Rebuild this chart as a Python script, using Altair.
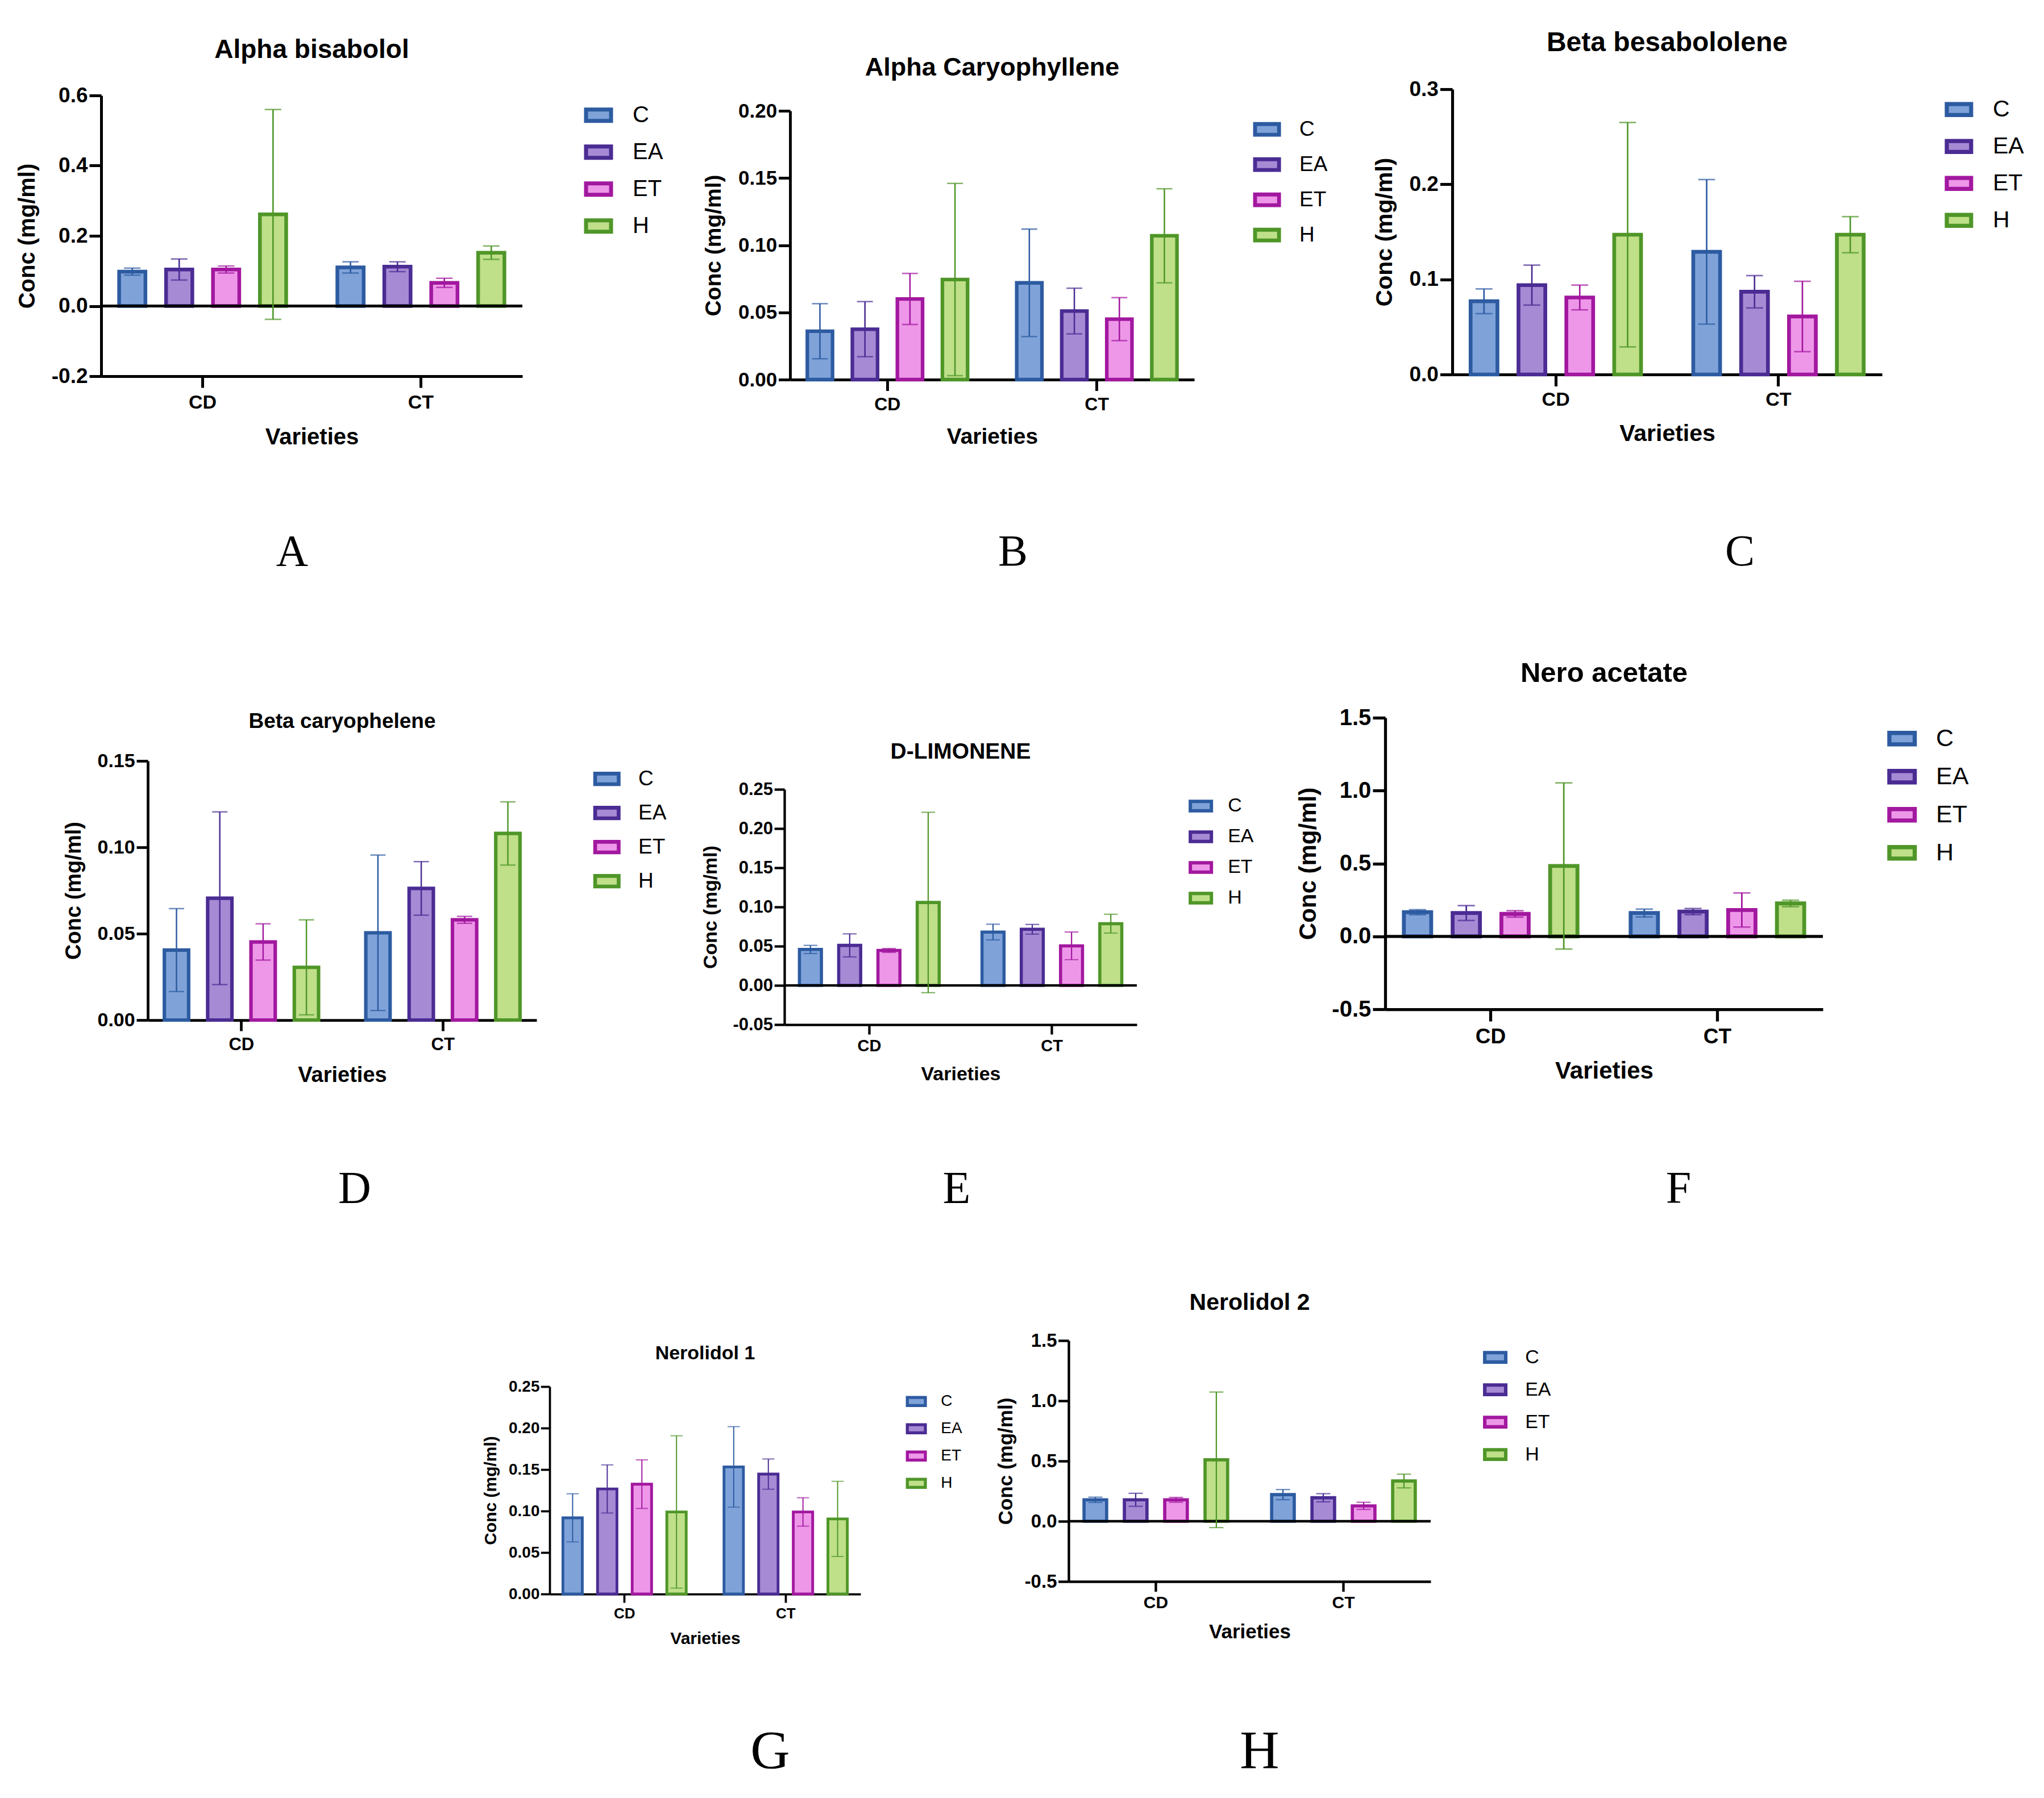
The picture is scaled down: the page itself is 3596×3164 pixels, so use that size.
import altair as alt
import pandas as pd

# ---------------- data ----------------
VARIETIES = ["CD", "CT"]
GROUPS = ["C", "EA", "ET", "H"]
FILLS = ["#7FA3D9", "#A68AD4", "#EE97E9", "#BFDF89"]
STROKES = ["#2D5BA1", "#4A2C93", "#A2189F", "#4F9628"]

# order of values: CD-C, CD-EA, CD-ET, CD-H, CT-C, CT-EA, CT-ET, CT-H
A_TITLE = "Alpha bisabolol"
A_MEAN = [0.098, 0.104, 0.104, 0.261, 0.110, 0.112, 0.066, 0.152]
A_SD = [0.010, 0.030, 0.010, 0.299, 0.016, 0.014, 0.013, 0.019]
A_TICKS = [-0.2, 0.0, 0.2, 0.4, 0.6]

B_TITLE = "Alpha Caryophyllene"
B_MEAN = [0.036, 0.0375, 0.060, 0.0745, 0.072, 0.051, 0.045, 0.107]
B_SD = [0.0205, 0.0205, 0.019, 0.0715, 0.040, 0.017, 0.016, 0.035]
B_TICKS = [0.0, 0.05, 0.10, 0.15, 0.20]

C_TITLE = "Beta besabololene"
C_MEAN = [0.077, 0.094, 0.081, 0.147, 0.129, 0.087, 0.061, 0.147]
C_SD = [0.013, 0.021, 0.013, 0.118, 0.076, 0.017, 0.037, 0.019]
C_TICKS = [0.0, 0.1, 0.2, 0.3]

D_TITLE = "Beta caryophelene"
D_MEAN = [0.0405, 0.0705, 0.0452, 0.0305, 0.0505, 0.0762, 0.058, 0.108]
D_SD = [0.024, 0.050, 0.0105, 0.0275, 0.045, 0.0155, 0.002, 0.0183]
D_TICKS = [0.0, 0.05, 0.10, 0.15]

E_TITLE = "D-LIMONENE"
E_MEAN = [0.0458, 0.051, 0.0445, 0.1057, 0.068, 0.0715, 0.0504, 0.0787]
E_SD = [0.0052, 0.0147, 0.0025, 0.115, 0.010, 0.0062, 0.0176, 0.012]
E_TICKS = [-0.05, 0.0, 0.05, 0.10, 0.15, 0.20, 0.25]

F_TITLE = "Nero acetate"
F_MEAN = [0.166, 0.160, 0.154, 0.483, 0.160, 0.170, 0.181, 0.226]
F_SD = [0.017, 0.051, 0.022, 0.570, 0.027, 0.021, 0.117, 0.022]
F_TICKS = [-0.5, 0.0, 0.5, 1.0, 1.5]

G_TITLE = "Nerolidol 1"
G_MEAN = [0.0918, 0.1266, 0.1324, 0.0989, 0.1532, 0.1445, 0.0989, 0.0905]
G_SD = [0.029, 0.029, 0.0293, 0.0918, 0.0485, 0.0182, 0.0171, 0.0453]
G_TICKS = [0.0, 0.05, 0.10, 0.15, 0.20, 0.25]

H_TITLE = "Nerolidol 2"
H_MEAN = [0.178, 0.178, 0.178, 0.51, 0.221, 0.195, 0.1275, 0.334]
H_SD = [0.022, 0.054, 0.020, 0.563, 0.042, 0.034, 0.0295, 0.057]
H_TICKS = [-0.5, 0.0, 0.5, 1.0, 1.5]

X_TITLE = "Varieties"
Y_TITLE = "Conc (mg/ml)"

# ---------------- layout / style ----------------
FONT = "Liberation Sans"
SERIF = "Liberation Serif"
SWATCH = "M-1,-0.45L1,-0.45L1,0.45L-1,0.45Z"
ORIGIN = 8

LAYOUT = {
    "A": dict(L=178, T=168, W=741, H=494, fmt=".1f", title_fs=46, tick_fs=34, ylab_fs=37, axt_fs=40, leg_fs=40,
              ytx=130, lgap=113, sw=51, lrow=66, lyc=33, loff=31, toff=71.5, xlab=46, xtit=107),
    "B": dict(L=1391, T=195, W=711, H=473, fmt=".2f", title_fs=45, tick_fs=32, ylab_fs=35, axt_fs=39, leg_fs=37,
              ytx=135, lgap=108, sw=49, lrow=63, lyc=31, loff=29, toff=69, xlab=44, xtit=102),
    "C": dict(L=2556, T=157, W=756, H=502, fmt=".1f", title_fs=48, tick_fs=34, ylab_fs=37, axt_fs=41, leg_fs=41,
              ytx=119, lgap=115, sw=50, lrow=66, lyc=34, loff=31, toff=73, xlab=44, xtit=105),
    "D": dict(L=260, T=1339, W=684, H=456, fmt=".2f", title_fs=37, tick_fs=31, ylab_fs=34, axt_fs=38, leg_fs=37,
              ytx=130, lgap=104, sw=48, lrow=61, lyc=30, loff=28, toff=63, xlab=44, xtit=98),
    "E": dict(L=1380, T=1389, W=620, H=414, fmt=".2f", title_fs=39, tick_fs=29, ylab_fs=31, axt_fs=34, leg_fs=34,
              ytx=130, lgap=95, sw=43, lrow=55, lyc=28, loff=23, toff=59, xlab=38, xtit=87),
    "F": dict(L=2436, T=1263, W=770, H=513, fmt=".1f", title_fs=49, tick_fs=37, ylab_fs=40, axt_fs=42, leg_fs=43,
              ytx=136, lgap=118, sw=52, lrow=68, lyc=35, loff=30, toff=70, xlab=49, xtit=110),
    "G": dict(L=967, T=2440, W=547, H=365, fmt=".2f", title_fs=34, tick_fs=26, ylab_fs=28, axt_fs=30, leg_fs=28,
              ytx=104, lgap=83, sw=37, lrow=48, lyc=25, loff=22, toff=53, xlab=34, xtit=78),
    "H": dict(L=1881, T=2359, W=637, H=424, fmt=".1f", title_fs=41, tick_fs=30, ylab_fs=33, axt_fs=35, leg_fs=34,
              ytx=111, lgap=96, sw=43, lrow=57, lyc=28, loff=28, toff=60, xlab=37, xtit=89),
}

# rows: (panel keys, row top on page, row height, letter-row height, letter size)
ROWS = [
    (["A", "B", "C"], 8, 884, 160, 78),
    (["D", "E", "F"], 1052, 961, 160, 80),
    (["G", "H"], 2173, 830, 160, 96),
]
LETTER_X = {"A": 514, "B": 1782, "C": 3061, "D": 624, "E": 1683, "F": 2953, "G": 1355, "H": 2216}
LETTER_W = 200

PANEL_DATA = {
    "A": (A_TITLE, A_MEAN, A_SD, A_TICKS),
    "B": (B_TITLE, B_MEAN, B_SD, B_TICKS),
    "C": (C_TITLE, C_MEAN, C_SD, C_TICKS),
    "D": (D_TITLE, D_MEAN, D_SD, D_TICKS),
    "E": (E_TITLE, E_MEAN, E_SD, E_TICKS),
    "F": (F_TITLE, F_MEAN, F_SD, F_TICKS),
    "G": (G_TITLE, G_MEAN, G_SD, G_TICKS),
    "H": (H_TITLE, H_MEAN, H_SD, H_TICKS),
}

SPACER_DF = pd.DataFrame({"s": [0]})
ZERO_DF = pd.DataFrame({"z": [0.0]})

RES = dict(color="independent", stroke="independent", fill="independent", xOffset="independent")
LRES = dict(color="independent", stroke="independent", fill="independent")


def spacer(w, h):
    return alt.Chart(SPACER_DF).mark_point(opacity=0, size=1).properties(
        width=max(1, int(round(w))), height=max(1, int(round(h))))


def make_panel(key):
    title, means, sds, ticks = PANEL_DATA[key]
    c = LAYOUT[key]
    f = c["axt_fs"] / 40.0
    recs = []
    for i, v in enumerate(VARIETIES):
        for j, g in enumerate(GROUPS):
            k = 4 * i + j
            recs.append({"variety": v, "group": g, "mean": means[k],
                         "lo": means[k] - sds[k], "hi": means[k] + sds[k]})
    df = pd.DataFrame(recs)
    W, H = c["W"], c["H"]
    axis_w = 5 * f
    ytick = 21 * f
    xtick = 20 * f
    bsw = 6.5 * f
    ew = 2.6 * f
    lsw = 7 * f
    p = c["sw"] - lsw
    step = W / (2 - 0.14 + 0.07)
    bar_band = step * (1 - 0.14) / 4 * (1 - 0.44)
    cap = 0.55 * (bar_band + bsw)

    label_expr = f"(datum.value < 0 ? '-' : '') + format(abs(datum.value), '{c['fmt']}')"

    xenc = alt.X("variety:N", sort=VARIETIES,
                 scale=alt.Scale(paddingInner=0.14, paddingOuter=0.035),
                 axis=alt.Axis(title=X_TITLE, labelAngle=0, grid=False,
                               labelFont=FONT, labelFontWeight="bold", labelFontSize=c["tick_fs"],
                               labelColor="black",
                               labelPadding=max(0, c["xlab"] - xtick - c["tick_fs"] / 2),
                               tickSize=xtick, tickWidth=axis_w, tickColor="black",
                               domainColor="black", domainWidth=axis_w,
                               titleFont=FONT, titleFontSize=c["axt_fs"], titleFontWeight="bold",
                               titleColor="black",
                               titlePadding=max(0, c["xtit"] - c["xlab"] - c["tick_fs"] / 2 - c["axt_fs"] / 2)))
    xoff = alt.XOffset("group:N", sort=GROUPS, scale=alt.Scale(paddingInner=0.44, paddingOuter=0.22))
    yscale = alt.Scale(domain=[ticks[0], ticks[-1]], nice=False, zero=False)
    yaxis = alt.Axis(title=Y_TITLE, values=ticks, labelExpr=label_expr, grid=False,
                     domainColor="black", domainWidth=axis_w, tickColor="black", tickWidth=axis_w,
                     tickSize=ytick, labelFont=FONT, labelFontSize=c["ylab_fs"], labelFontWeight="bold",
                     labelColor="black", labelPadding=3 * f,
                     titleFont=FONT, titleFontSize=c["axt_fs"], titleFontWeight="bold", titleColor="black",
                     titleX=-c["ytx"], titleY=H / 2, titleAngle=270, titleBaseline="middle",
                     titleAlign="center")
    fill_scale = alt.Scale(domain=GROUPS, range=FILLS)
    stroke_scale = alt.Scale(domain=GROUPS, range=STROKES)
    legend = alt.Legend(title=None, orient="none", legendX=W + c["lgap"] + lsw / 2 - 8 * f,
                        legendY=c["lyc"] - p / 2 - lsw / 4, symbolType=SWATCH, symbolSize=p * p,
                        symbolStrokeWidth=lsw, symbolOpacity=1, labelFont=FONT,
                        labelFontSize=c["leg_fs"], labelColor="black",
                        labelOffset=c["loff"] + lsw / 2, rowPadding=c["lrow"] - p - lsw, padding=0)

    base = alt.Chart(df).encode(x=xenc, xOffset=xoff)
    bars = base.mark_bar(strokeWidth=bsw).encode(
        y=alt.Y("mean:Q", scale=yscale, axis=yaxis),
        y2=alt.datum(0),
        color=alt.Color("group:N", scale=fill_scale, legend=legend),
        stroke=alt.Stroke("group:N", scale=stroke_scale, legend=legend),
    )
    rule = base.mark_rule(strokeWidth=ew).encode(
        y=alt.Y("lo:Q", scale=yscale, axis=yaxis), y2="hi:Q",
        stroke=alt.Stroke("group:N", scale=stroke_scale, legend=None))
    cap_hi = base.mark_tick(thickness=ew, size=cap, filled=True).encode(
        y=alt.Y("hi:Q", scale=yscale, axis=yaxis),
        fill=alt.Fill("group:N", scale=alt.Scale(domain=GROUPS, range=STROKES), legend=None))
    cap_lo = base.mark_tick(thickness=ew, size=cap, filled=True).encode(
        y=alt.Y("lo:Q", scale=yscale, axis=yaxis),
        fill=alt.Fill("group:N", scale=alt.Scale(domain=GROUPS, range=STROKES), legend=None))
    layers = [bars]
    if ticks[0] < 0:
        zero = alt.Chart(ZERO_DF).mark_rule(color="black", strokeWidth=axis_w).encode(
            y=alt.Y("z:Q", scale=yscale, axis=yaxis))
        layers.append(zero)
    layers += [rule, cap_hi, cap_lo]
    title_off = c["toff"] - 1.1 * c["title_fs"] - 0.55 * c["ylab_fs"]
    return alt.layer(*layers).properties(
        width=W, height=H,
        title=alt.TitleParams(text=title, font=FONT, fontSize=c["title_fs"], fontWeight="bold",
                              color="black", anchor="middle", frame="group", offset=title_off,
                              baseline="alphabetic"))


def letter_chart(t, h, fs):
    return alt.Chart(pd.DataFrame({"t": [t]})).mark_text(
        font=SERIF, fontSize=fs, color="black", align="center", baseline="middle"
    ).encode(text="t:N").properties(width=LETTER_W, height=h)


blocks = []
for keys, top, R, LH, lfs in ROWS:
    items = []
    x = ORIGIN
    for i, k in enumerate(keys):
        c = LAYOUT[k]
        ext = c["ytx"] + c["axt_fs"] / 2
        cell_left = c["L"] - ext
        items.append(spacer(cell_left - x, R if i == 0 else 1))
        cell = alt.vconcat(spacer(1, c["T"] - top), make_panel(k), spacing=0, bounds="flush")
        cell = cell.resolve_scale(**RES).resolve_legend(**LRES)
        items.append(cell)
        x = c["L"] + c["W"] + c["lgap"] + c["sw"] + c["loff"] + 1.334 * c["leg_fs"]
    row = alt.hconcat(*items, spacing=0).resolve_scale(**RES).resolve_legend(**LRES)
    blocks.append(row)
    litems = []
    x = ORIGIN
    for k in keys:
        left = LETTER_X[k] - LETTER_W / 2
        litems.append(spacer(left - x, LH if not litems else 1))
        litems.append(letter_chart(k, LH, lfs))
        x = left + LETTER_W
    blocks.append(alt.hconcat(*litems, spacing=0))

chart = alt.vconcat(*blocks, spacing=0).resolve_scale(**RES).resolve_legend(**LRES).properties(
    padding=0, background="white"
).configure_view(stroke=None)

chart.save("out.html", embed_options={"renderer": "svg", "actions": False})
